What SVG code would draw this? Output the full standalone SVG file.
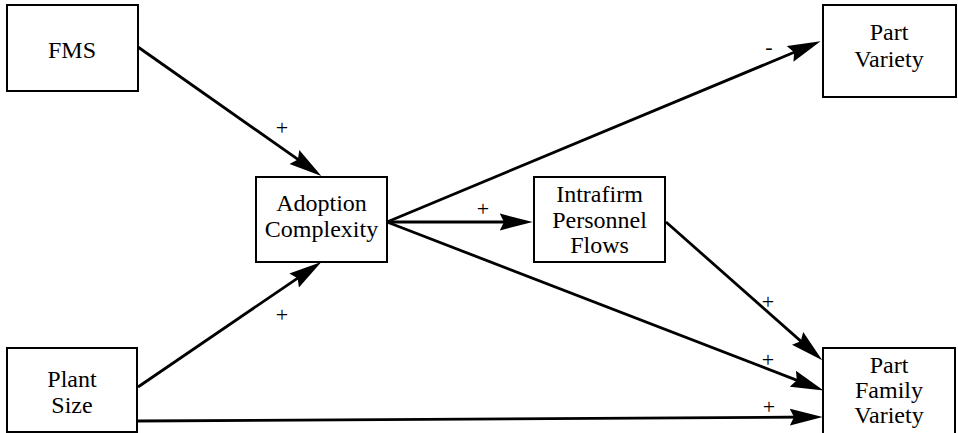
<svg xmlns="http://www.w3.org/2000/svg" width="958" height="433" viewBox="0 0 958 433">
<style>
.box{fill:#fff;stroke:#000;stroke-width:2}
.t{font-family:"Liberation Serif","Times New Roman",serif;font-size:24px;fill:#000;text-anchor:middle}
.s{font-family:"Liberation Serif","Times New Roman",serif;font-size:22px;fill:#000;text-anchor:middle}
.c{fill:none;stroke:#000;stroke-width:2.8;marker-end:url(#ah)}
</style>
<defs>
<marker id="ah" markerUnits="userSpaceOnUse" markerWidth="34" markerHeight="18" refX="20" refY="8" orient="auto" viewBox="0 0 32 16">
<path d="M0,0 L31,8 L0,16 L4,8 z" fill="#000"/>
</marker>
</defs>
<rect width="958" height="433" fill="#fff"/>
<g id="connectors">
<line class="c" x1="138" y1="47" x2="311.8" y2="169.2"/>
<line class="c" x1="138" y1="387" x2="311.7" y2="268.6"/>
<line class="c" x1="387" y1="222" x2="521" y2="222"/>
<line class="c" x1="387" y1="222" x2="809.8" y2="45.8"/>
<line class="c" x1="387" y1="222" x2="812.7" y2="386.4"/>
<line class="c" x1="666" y1="222" x2="813.5" y2="352.4"/>
<line class="c" x1="137" y1="421" x2="811" y2="417"/>
<text class="s" x="282" y="135">+</text>
<text class="s" x="282" y="322">+</text>
<text class="s" x="483" y="216">+</text>
<text class="s" x="769" y="54">-</text>
<text class="s" x="768" y="309">+</text>
<text class="s" x="768" y="367">+</text>
<text class="s" x="769" y="414">+</text>
</g>
<g id="fms">
<rect class="box" x="7" y="5" width="131" height="86"/>
<text class="t" x="72" y="58">FMS</text>
</g>
<g id="plant-size">
<rect class="box" x="7" y="348" width="130" height="84"/>
<text class="t" x="72" y="387">Plant</text>
<text class="t" x="72" y="413">Size</text>
</g>
<g id="adoption-complexity">
<rect class="box" x="256" y="177" width="131" height="85"/>
<text class="t" x="321.5" y="211">Adoption</text>
<text class="t" x="321.5" y="237">Complexity</text>
</g>
<g id="intrafirm-personnel-flows">
<rect class="box" x="534" y="177" width="131" height="85"/>
<text class="t" x="599.5" y="202">Intrafirm</text>
<text class="t" x="599.5" y="228">Personnel</text>
<text class="t" x="599.5" y="253">Flows</text>
</g>
<g id="part-variety">
<rect class="box" x="823" y="5" width="133" height="92"/>
<text class="t" x="889" y="40">Part</text>
<text class="t" x="889" y="67">Variety</text>
</g>
<g id="part-family-variety">
<rect class="box" x="823" y="348" width="132" height="90"/>
<text class="t" x="889" y="373">Part</text>
<text class="t" x="889" y="398">Family</text>
<text class="t" x="889" y="423">Variety</text>
</g>
</svg>
